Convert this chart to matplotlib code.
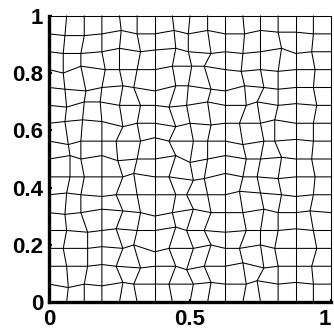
import matplotlib
matplotlib.use("Agg")
import matplotlib.pyplot as plt
import numpy as np

# mesh: 16 x 16 cells on the unit square, boundary nodes fixed
n_cells = 16
x_ticks = [0, 0.5, 1]
y_ticks = [0, 0.2, 0.4, 0.6, 0.8, 1]
x_tick_labels = ["0", "0.5", "1"]
y_tick_labels = ["0", "0.2", "0.4", "0.6", "0.8", "1"]

# interior node offsets (units of offset_unit),
# rows from top (j=15) down to bottom (j=1), columns i=1..15
dy_rows = [
    [-1, -1, 0, 2, 0, 0, 2, 0, 2, 0, 0, 2, 1, 1, 0],
    [-1, -1, 0, 2, 0, 1, 2, 0, -1, 0, -1, 0, 2, -1, 0],
    [-2, 2, 0, 0, 0, 0, 2, 2, 2, 0, -1, 0, -1, 0, 0],
    [-1, -2, 0, 1, 0, -2, 1, 1, -1, -2, 1, 0, -1, 0, 0],
    [-1, 2, 2, 0, 0, 0, -1, 0, 2, 0, 0, 2, 0, 1, 0],
    [1, 2, 1, -2, 0, 0, -2, 0, -1, 0, 0, 0, 2, 0, 0],
    [-2, 0, 0, 0, 0, 2, 0, 0, 0, 0, -2, 0, 0, 1, 0],
    [2, 0, 2, -1, 0, 0, 2, -2, 0, 2, 0, 0, 1, 0, 0],
    [0, 0, 0, 0, 2, 0, 0, -2, -1, 2, 0, 0, -1, 0, 0],
    [1, 0, -1, 0, 0, 0, 0, 0, 0, 0, 2, 1, 0, -1, 0],
    [-1, 0, 2, 1, 0, -2, 0, 2, 0, 0, 0, 2, 0, 0, 1],
    [0, -1, 0, 1, 0, 0, 2, 0, 0, -1, 0, 0, 0, 1, 0],
    [0, 0, 1, 0, 2, -2, 0, 0, 2, 0, 0, 2, 0, 0, 0],
    [0, 0, 1, 0, -1, 0, 0, -2, 0, 0, 2, -1, 0, 0, 0],
    [-2, 0, -1, 1, 0, 0, 0, 0, 1, 0, 0, 2, 0, 1, 0],
]
dx_rows = [
    [-1, 0, 0, 1, 0, 0, 1, -1, 0, 0, 1, 0, 0, 0, 0],
    [-2, -2, 0, 0, 2, 0, 2, -1, 2, 0, 0, 0, 2, 0, -1],
    [-2, -2, 2, 0, 0, 0, 0, 1, -2, 0, -1, 0, 0, 0, 1],
    [-1, 1, 0, 2, -2, 0, 2, -1, 2, 0, 1, 2, 0, 0, 0],
    [0, 0, -1, 0, 2, 0, -2, -2, 0, 0, 2, -2, 0, 0, 2],
    [-1, -1, 0, 2, 0, 0, 2, 0, 2, 0, -2, 0, -2, 0, 0],
    [1, -2, 0, -2, 2, 0, -2, 2, 0, 0, 0, 2, -2, 0, 0],
    [2, -2, 0, -1, 0, 0, 2, 0, 0, 0, 2, 0, 2, 0, -1],
    [2, 0, 0, 2, -2, 0, -2, 2, -2, 0, 0, -2, 0, 0, 1],
    [0, -2, 0, -2, 0, 0, 2, -2, 0, 0, -2, 0, 2, 0, 0],
    [-1, -2, 0, 2, 2, 0, 0, 2, 2, 0, 0, 2, 0, 0, -2],
    [0, 2, 0, -2, 0, 0, 2, -2, -2, 0, 2, 0, 0, 0, 0],
    [-2, 2, 0, 2, -2, 0, -2, 2, 2, 0, -2, 0, -2, 0, 2],
    [0, 2, 0, -2, 2, 0, 2, -2, -2, 0, 0, 2, 0, 0, -1],
    [1, 0, 0, 2, -2, 0, -2, 2, 2, 0, 2, -2, 0, 0, 0],
]
offset_unit = 0.006

# build node coordinates
g = np.linspace(0, 1, n_cells + 1)
X, Y = np.meshgrid(g, g)  # X[j, i], Y[j, i]
dx = np.array(dx_rows[::-1]) * offset_unit
dy = np.array(dy_rows[::-1]) * offset_unit
X[1:-1, 1:-1] += dx
Y[1:-1, 1:-1] += dy

fig = plt.figure(figsize=(3.34, 3.31), dpi=100)
ax = fig.add_axes([49 / 334, 29 / 331, 282 / 334, 286 / 331])

lw = 0.75
for j in range(n_cells + 1):
    ax.plot(X[j, :], Y[j, :], color="black", lw=lw, clip_on=False)
for i in range(n_cells + 1):
    ax.plot(X[:, i], Y[:, i], color="black", lw=lw, clip_on=False)

ax.set_xlim(0, 1)
ax.set_ylim(0, 1)
for side in ["top", "right"]:
    ax.spines[side].set_visible(False)
for side in ["left", "bottom"]:
    ax.spines[side].set_linewidth(2.4)

ax.set_xticks(x_ticks)
ax.set_xticklabels(x_tick_labels)
ax.set_yticks(y_ticks)
ax.set_yticklabels(y_tick_labels)
ax.tick_params(direction="in", length=2, width=1.5, labelsize=16)
ax.tick_params(axis="x", pad=5)
ax.tick_params(axis="y", pad=4)
for lab in ax.get_xticklabels() + ax.get_yticklabels():
    lab.set_fontweight("bold")
    lab.set_fontfamily("Liberation Sans")
# keep the last x label inside the picture, as in the reference
ax.get_xticklabels()[-1].set_horizontalalignment("right")

fig.savefig("out.png", dpi=100)
